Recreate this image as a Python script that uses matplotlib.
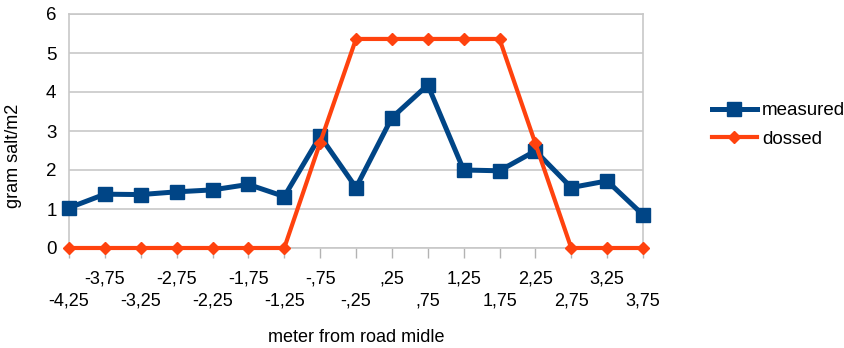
import matplotlib.pyplot as plt

# distance from road middle (m) and salt amounts (g/m2)
positions = ["-4,25", "-3,75", "-3,25", "-2,75", "-2,25", "-1,75", "-1,25", "-,75", "-,25",
             ",25", ",75", "1,25", "1,75", "2,25", "2,75", "3,25", "3,75"]
measured = [1.03, 1.38, 1.37, 1.44, 1.49, 1.63, 1.32, 2.87, 1.55, 3.34, 4.18,
            2.0, 1.98, 2.49, 1.55, 1.72, 0.85]
dossed = [0, 0, 0, 0, 0, 0, 0, 2.70, 5.36, 5.36, 5.36, 5.36, 5.36, 2.68, 0, 0, 0]

plt.rcParams['font.family'] = ['Liberation Sans', 'DejaVu Sans']
blue = '#004586'
orange = '#ff420e'
fs = 13

fig = plt.figure(figsize=(8.44, 3.48), dpi=100)
ax = fig.add_axes([69/844, 1 - 248/348, (643 - 69)/844, (248 - 14)/348])

idx = list(range(len(positions)))
ax.plot(idx, measured, color=blue, lw=3.6, marker='s', ms=9.5, label='measured',
        clip_on=False, zorder=3)
ax.plot(idx, dossed, color=orange, lw=3.0, marker='D', ms=6.5, label='dossed',
        clip_on=False, zorder=4)

ax.set_xlim(0, len(positions) - 1)
ax.set_ylim(0, 6)
ax.set_yticks(range(7))
ax.tick_params(axis='y', length=0, pad=9, labelsize=fs + 0.5)
ax.grid(axis='y', color='#c8c8c8', lw=1.2)
ax.set_axisbelow(True)

# alternate tick labels on two rows
ax.set_xticks(idx[1::2])
ax.set_xticklabels(positions[1::2])
ax.set_xticks(idx[0::2], minor=True)
ax.set_xticklabels(positions[0::2], minor=True)
ax.tick_params(axis='x', which='major', length=7, width=1, color='#b3b3b3', pad=9, labelsize=fs)
ax.tick_params(axis='x', which='minor', length=7, width=1, color='#b3b3b3', pad=25, labelsize=fs)

for s in ax.spines.values():
    s.set_color('#c8c8c8')
    s.set_linewidth(1.2)

fig.text(356/844, 1 - 338/348, 'meter from road midle', ha='center', va='center', fontsize=fs)
fig.text(14/844, 1 - 156/348, 'gram salt/m2', ha='center', va='center', rotation=90, fontsize=fs)

ax.legend(loc='center left', bbox_to_anchor=(695/844, 1 - 125/348), bbox_transform=fig.transFigure,
          frameon=False, fontsize=fs + 0.5, handlelength=2.4, handletextpad=0.28, labelspacing=0.6,
          borderpad=0.4)

fig.savefig('out.png', dpi=100)
